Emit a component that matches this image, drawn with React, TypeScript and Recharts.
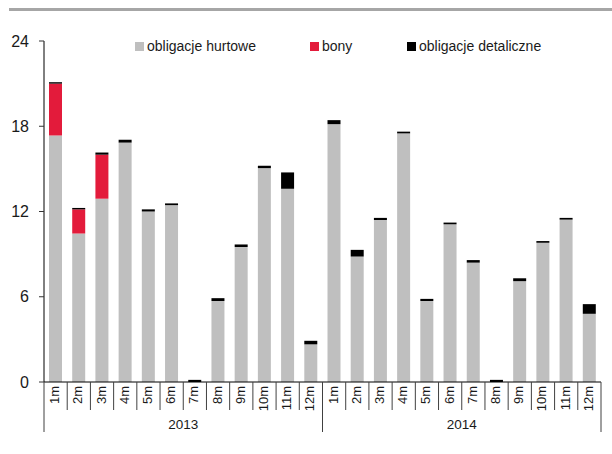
import { BarChart, Bar, XAxis, YAxis, Legend } from "recharts";

// categories
const months = [
  "1m", "2m", "3m", "4m", "5m", "6m", "7m", "8m", "9m", "10m", "11m", "12m",
  "1m", "2m", "3m", "4m", "5m", "6m", "7m", "8m", "9m", "10m", "11m", "12m",
];
const years = [
  "2013", "2013", "2013", "2013", "2013", "2013", "2013", "2013", "2013", "2013", "2013", "2013",
  "2014", "2014", "2014", "2014", "2014", "2014", "2014", "2014", "2014", "2014", "2014", "2014",
];
const seriesNames = ["obligacje hurtowe", "bony", "obligacje detaliczne"];

// series values
const hurtowe = [
  17.35, 10.45, 12.9, 16.85, 12.0, 12.45, 0, 5.7, 9.5, 15.05, 13.6, 2.65,
  18.15, 8.83, 11.4, 17.5, 5.7, 11.1, 8.4, 0, 7.1, 9.8, 11.43, 4.8,
];
const bony = [
  3.65, 1.7, 3.1, 0, 0, 0, 0, 0, 0, 0, 0, 0,
  0, 0, 0, 0, 0, 0, 0, 0, 0, 0, 0, 0,
];
const detaliczne = [
  0.1, 0.1, 0.15, 0.2, 0.15, 0.12, 0.15, 0.2, 0.18, 0.17, 1.15, 0.25,
  0.28, 0.47, 0.15, 0.12, 0.15, 0.12, 0.18, 0.15, 0.2, 0.12, 0.12, 0.68,
];

const yTicks = [0, 6, 12, 18, 24];

const data = months.map((m, i) => ({
  month: m,
  year: years[i],
  hurtowe: hurtowe[i],
  bony: bony[i],
  detaliczne: detaliczne[i],
}));

const WIDTH = 612;
const HEIGHT = 454;
const MARGIN = { top: 41, right: 11, left: 0, bottom: 0 };
const Y_AXIS_W = 44;
const PLOT_W = WIDTH - MARGIN.left - MARGIN.right - Y_AXIS_W;
const BAND = PLOT_W / months.length;
const FONT = "'Liberation Sans', Arial, sans-serif";
const LINE = "#404040";

const MonthTick = (props: any) => {
  const { x, y, payload } = props;
  const i: number = payload.index;
  const left = x - BAND / 2;
  const right = x + BAND / 2;
  const yearStart = i === 0 || years[i] !== years[i - 1];
  const yearLast = i === months.length - 1;
  const count = years.filter((v) => v === years[i]).length;
  return (
    <g>
      <line x1={left} y1={y} x2={left} y2={y + (yearStart ? 50 : 28)} stroke={LINE} />
      {yearLast && <line x1={right} y1={y} x2={right} y2={y + 50} stroke={LINE} />}
      <text
        transform={`translate(${x + 3.5},${y + 4}) rotate(-90)`}
        textAnchor="end"
        fontSize={13}
        fontFamily={FONT}
        fill="#1a1a1a"
      >
        {payload.value}
      </text>
      {yearStart && (
        <text
          x={left + (count * BAND) / 2}
          y={y + 47}
          textAnchor="middle"
          fontSize={13.5}
          fontFamily={FONT}
          fill="#1a1a1a"
        >
          {years[i]}
        </text>
      )}
    </g>
  );
};

const LEGEND_X = [135, 310, 407];

const renderLegend = (props: any) => {
  const items = [...(props.payload || [])].sort(
    (a: any, b: any) => seriesNames.indexOf(a.value) - seriesNames.indexOf(b.value)
  );
  return (
    <div style={{ position: "relative", width: WIDTH, height: 20 }}>
      {items.map((entry: any, i: number) => (
        <div
          key={entry.value}
          style={{
            position: "absolute",
            left: LEGEND_X[i],
            top: 0,
            display: "flex",
            alignItems: "center",
            whiteSpace: "nowrap",
            fontFamily: FONT,
            fontSize: 14,
            color: "#1a1a1a",
          }}
        >
          <span
            style={{
              display: "inline-block",
              width: 9,
              height: 9,
              background: entry.color,
              marginRight: 3,
            }}
          />
          {entry.value}
        </div>
      ))}
    </div>
  );
};

export default function App() {
  return (
    <div style={{ position: "absolute", left: 0, top: 0, width: WIDTH, height: HEIGHT, background: "#fff" }}>
      <div
        style={{ position: "absolute", left: 9, top: 8, width: WIDTH - 9, height: 3, background: "#a6a6a6" }}
      />
      <BarChart width={WIDTH} height={HEIGHT} data={data} margin={MARGIN} barSize={13}>
        <XAxis
          dataKey="month"
          interval={0}
          height={72}
          tickLine={false}
          tickSize={0}
          tickMargin={0}
          axisLine={{ stroke: "#000" }}
          tick={<MonthTick />}
        />
        <YAxis
          width={Y_AXIS_W}
          domain={[0, 24]}
          ticks={yTicks}
          interval={0}
          tickSize={5}
          tickMargin={10}
          axisLine={{ stroke: "#000" }}
          tickLine={{ stroke: "#333" }}
          tick={{ fontSize: 16, fontFamily: FONT, fill: "#1a1a1a" }}
        />
        <Legend
          layout="vertical"
          align="center"
          verticalAlign="middle"
          content={renderLegend}
          wrapperStyle={{ position: "absolute", top: 38, left: 0, width: WIDTH }}
        />
        <Bar dataKey="hurtowe" name={seriesNames[0]} stackId="a" fill="#bfbfbf" isAnimationActive={false} />
        <Bar dataKey="bony" name={seriesNames[1]} stackId="a" fill="#e31b3b" isAnimationActive={false} />
        <Bar dataKey="detaliczne" name={seriesNames[2]} stackId="a" fill="#000000" isAnimationActive={false} />
      </BarChart>
    </div>
  );
}
